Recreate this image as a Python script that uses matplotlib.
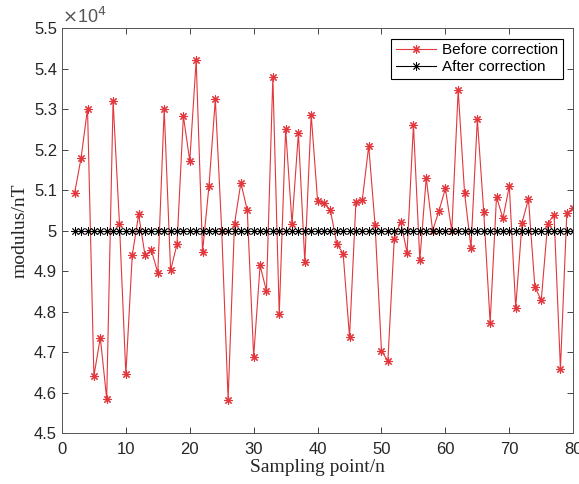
import numpy as np
import matplotlib
matplotlib.use("Agg")
import matplotlib.pyplot as plt

# sampling points and magnetic modulus (x1e4 nT)
sample_idx = list(range(2, 81))
before = [5.094, 5.180, 5.301, 4.641, 4.736, 4.585, 5.320, 5.017, 4.645,
          4.939, 5.040, 4.939, 4.951, 4.896, 5.300, 4.902, 4.966, 5.283,
          5.172, 5.421, 4.948, 5.109, 5.324, 5.000, 4.583, 5.017, 5.118,
          5.050, 4.689, 4.914, 4.851, 5.379, 4.793, 5.251, 5.017, 5.241,
          4.923, 5.286, 5.074, 5.067, 5.051, 4.968, 4.943, 4.737, 5.071,
          5.076, 5.209, 5.013, 4.703, 4.678, 4.980, 5.022, 4.946, 5.261,
          4.927, 5.130, 5.000, 5.049, 5.104, 4.999, 5.347, 5.093, 4.958,
          5.275, 5.046, 4.773, 5.084, 5.030, 5.110, 4.810, 5.020, 5.078,
          4.861, 4.828, 5.017, 5.039, 4.659, 5.043, 5.055]
after = [5.0] * len(sample_idx)

before = np.array(before) * 1e4
after = np.array(after) * 1e4

plt.rcParams['font.family'] = ['Liberation Sans', 'DejaVu Sans']
axcol = '#262626'

fig = plt.figure(figsize=(5.79, 4.84), dpi=100)
ax = fig.add_axes([0.107, 0.105, 0.883, 0.837])

star = (8, 2, 0)
ax.plot(sample_idx, before, color='#e2373c', lw=0.8, marker=star, ms=6,
        mew=0.8, label='Before correction')
ax.plot(sample_idx, after, color='black', lw=0.8, marker=star, ms=6,
        mew=0.6, label='After correction')

ax.set_xlim(0, 80)
ax.set_ylim(4.5e4, 5.5e4)
ax.set_xticks(range(0, 81, 10))
yt = np.arange(4.5, 5.51, 0.1)
ax.set_yticks(yt * 1e4)
ax.set_yticklabels(['%g' % round(v, 1) for v in yt])
ax.tick_params(direction='in', top=True, right=True, length=4, width=0.6,
               labelsize=12, colors=axcol, labelcolor=axcol)
ax.tick_params(axis='x', pad=6)
for s in ax.spines.values():
    s.set_color('#555555')
    s.set_linewidth(0.7)

ax.text(0.0, 1.003, r'$\times$10$^4$', transform=ax.transAxes, fontsize=13,
        color='#555555', ha='left', va='bottom')

ax.set_xlabel('Sampling point/n', fontsize=14, family='Liberation Serif',
              color=axcol, labelpad=2)
ax.set_ylabel('modulus/nT', fontsize=14, family='Liberation Serif',
              color=axcol, labelpad=4)

leg = ax.legend(loc='upper right', fontsize=11, fancybox=False,
                edgecolor='black', framealpha=1, handlelength=2.6,
                borderaxespad=0.7, borderpad=0.3, labelspacing=0.2,
                handletextpad=0.4)
leg.get_frame().set_linewidth(0.8)

fig.savefig('out.png', dpi=100)
